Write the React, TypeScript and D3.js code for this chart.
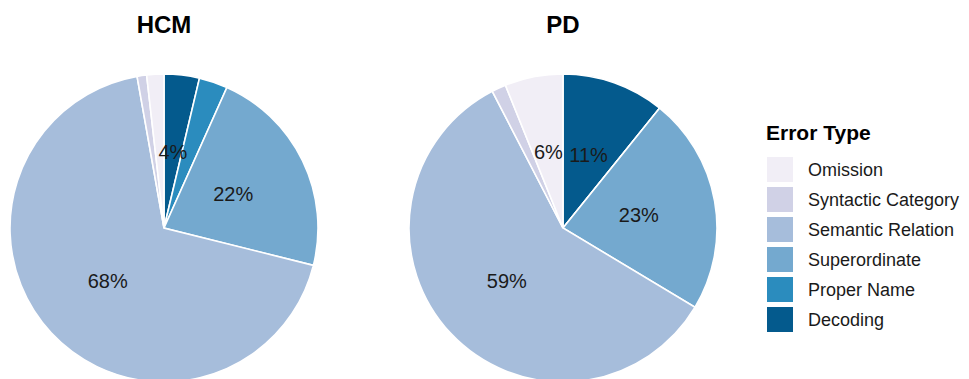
import React from "react";
import * as d3 from "d3";

// Error categories in clockwise drawing order, starting at 12 o'clock
const categories = [
  "Decoding",
  "Proper Name",
  "Superordinate",
  "Semantic Relation",
  "Syntactic Category",
  "Omission",
];

// Percentage of errors per category
const hcmValues = [3.7, 3.0, 22.2, 68.3, 1.0, 1.8];
const pdValues = [10.8, 0, 22.8, 58.8, 1.5, 6.1];

const groups = ["HCM", "PD"];

// Legend order (top to bottom)
const legendOrder = [
  "Omission",
  "Syntactic Category",
  "Semantic Relation",
  "Superordinate",
  "Proper Name",
  "Decoding",
];

const palette = ["#f1eef6", "#d0d1e6", "#a6bddb", "#74a9cf", "#2b8cbe", "#045a8d"];

const WIDTH = 969;
const HEIGHT = 379;
const RADIUS = 154;
const CENTERS = [164, 563];
const CY = 228;
const LABEL_MIN = 3.5;
const FONT = "'Liberation Sans', Arial, Helvetica, sans-serif";

const color = d3.scaleOrdinal<string, string>().domain(legendOrder).range(palette);

function Pie({ values, cx, title }: { values: number[]; cx: number; title: string }) {
  const rows = categories.map((c, i) => ({ cat: c, value: values[i] }));
  const pie = d3
    .pie<{ cat: string; value: number }>()
    .sort(null)
    .value((d) => d.value)
    .startAngle(0)
    .endAngle(2 * Math.PI);
  const arcs = pie(rows);
  const arc = d3
    .arc<d3.PieArcDatum<{ cat: string; value: number }>>()
    .innerRadius(0)
    .outerRadius(RADIUS);
  const labelArc = d3
    .arc<d3.PieArcDatum<{ cat: string; value: number }>>()
    .innerRadius(0)
    .outerRadius(RADIUS);
  return (
    <g>
      <text
        x={cx}
        y={33}
        textAnchor="middle"
        fontFamily={FONT}
        fontWeight="bold"
        fontSize={24}
        fill="#000"
      >
        {title}
      </text>
      <g transform={`translate(${cx},${CY})`}>
        {arcs.map((a) => (
          <path
            key={a.data.cat}
            d={arc(a) || ""}
            fill={color(a.data.cat)}
            stroke="#ffffff"
            strokeWidth={1.6}
          />
        ))}
        {arcs
          .filter((a) => a.data.value >= LABEL_MIN)
          .map((a) => {
            const [x, y] = labelArc.centroid(a);
            return (
              <text
                key={"l" + a.data.cat}
                x={x}
                y={y}
                textAnchor="middle"
                dominantBaseline="central"
                fontFamily={FONT}
                fontSize={20}
                fill="#1a1a1a"
              >
                {`${Math.round(a.data.value)}%`}
              </text>
            );
          })}
      </g>
    </g>
  );
}

function Legend() {
  const x0 = 767;
  const keySize = 25;
  const step = 30;
  const y0 = 157;
  return (
    <g>
      <text x={766} y={140} fontFamily={FONT} fontWeight="bold" fontSize={21} fill="#000">
        Error Type
      </text>
      {legendOrder.map((c, i) => (
        <g key={c}>
          <rect x={x0} y={y0 + i * step} width={26} height={keySize} fill={color(c)} />
          <text
            x={808}
            y={y0 + i * step + keySize / 2}
            dominantBaseline="central"
            fontFamily={FONT}
            fontSize={18}
            fill="#1a1a1a"
          >
            {c}
          </text>
        </g>
      ))}
    </g>
  );
}

export default function App() {
  const series = [hcmValues, pdValues];
  return (
    <svg
      width={WIDTH}
      height={HEIGHT}
      style={{ position: "absolute", left: 0, top: 0, background: "#fff" }}
    >
      <rect width={WIDTH} height={HEIGHT} fill="#fff" />
      {groups.map((g, i) => (
        <Pie key={g} values={series[i]} cx={CENTERS[i]} title={g} />
      ))}
      <Legend />
    </svg>
  );
}
